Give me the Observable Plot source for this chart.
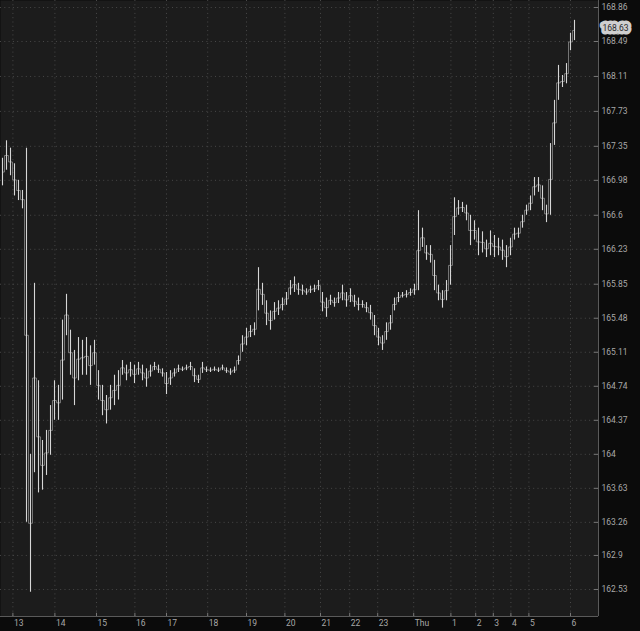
<!DOCTYPE html>
<html><head><meta charset="utf-8">
<script src="https://cdn.jsdelivr.net/npm/d3@7"></script>
<script src="https://cdn.jsdelivr.net/npm/@observablehq/plot@0.6"></script>
<style>html,body{margin:0;padding:0;background:#0b0b0b;overflow:hidden}</style>
</head><body><div id="chart"></div>
<script>
const lows = [
166.92, 167.09, 167.03, 166.81, 166.76, 166.67, 163.26, 162.50, 163.80, 163.58,
163.61, 163.77, 163.99, 164.37, 164.37, 164.59, 165.29, 164.86, 164.53, 164.80,
164.86, 164.86, 164.75, 164.97, 164.59, 164.42, 164.33, 164.48, 164.53, 164.59,
164.86, 164.80, 164.84, 164.77, 164.86, 164.80, 164.73, 164.84, 164.91, 164.88,
164.84, 164.65, 164.75, 164.84, 164.89, 164.90, 164.91, 164.91, 164.78, 164.77,
164.88, 164.89, 164.89, 164.90, 164.89, 164.91, 164.88, 164.86, 164.88, 164.97,
165.11, 165.18, 165.27, 165.29, 165.56, 165.62, 165.40, 165.35, 165.46, 165.51,
165.56, 165.62, 165.73, 165.76, 165.73, 165.73, 165.73, 165.75, 165.76, 165.78,
165.55, 165.49, 165.62, 165.60, 165.64, 165.67, 165.60, 165.65, 165.60, 165.56,
165.59, 165.54, 165.46, 165.29, 165.18, 165.13, 165.24, 165.35, 165.56, 165.65,
165.70, 165.70, 165.72, 165.73, 165.78, 166.25, 166.11, 166.08, 165.78, 165.67,
165.59, 165.67, 165.84, 166.38, 166.60, 166.63, 166.54, 166.27, 166.33, 166.16,
166.19, 166.14, 166.16, 166.14, 166.16, 166.11, 166.03, 166.16, 166.33, 166.35,
166.46, 166.60, 166.65, 166.81, 166.85, 166.65, 166.52, 166.60, 167.36, 167.85,
167.99, 168.03, 168.39, 168.50];
const highs = [
167.22, 167.41, 167.33, 167.16, 166.98, 166.87, 167.33, 164.00, 165.86, 164.80,
164.15, 164.26, 164.53, 164.80, 164.75, 165.46, 165.74, 165.35, 165.13, 165.27,
165.24, 165.27, 165.18, 165.24, 164.91, 164.75, 164.64, 164.75, 164.86, 164.91,
165.02, 164.97, 165.00, 164.97, 165.00, 164.97, 164.93, 164.97, 165.00, 164.97,
164.93, 164.89, 164.91, 164.93, 164.97, 164.95, 164.97, 165.00, 164.93, 164.86,
165.00, 164.95, 164.94, 164.95, 164.94, 164.97, 164.94, 164.93, 164.95, 165.07,
165.29, 165.37, 165.40, 165.43, 166.03, 165.86, 165.67, 165.56, 165.65, 165.67,
165.70, 165.76, 165.89, 165.93, 165.86, 165.84, 165.80, 165.83, 165.84, 165.89,
165.76, 165.70, 165.73, 165.70, 165.76, 165.84, 165.76, 165.80, 165.73, 165.70,
165.67, 165.65, 165.62, 165.51, 165.37, 165.29, 165.43, 165.51, 165.70, 165.76,
165.76, 165.78, 165.80, 165.85, 166.65, 166.46, 166.27, 166.27, 166.11, 165.84,
165.78, 165.89, 166.27, 166.79, 166.76, 166.74, 166.71, 166.60, 166.54, 166.46,
166.42, 166.33, 166.43, 166.38, 166.35, 166.33, 166.27, 166.35, 166.46, 166.46,
166.60, 166.71, 166.81, 167.01, 167.01, 166.92, 166.71, 167.38, 167.85, 168.23,
168.12, 168.25, 168.58, 168.72];
const lastPrice = 168.63;
const yTickLabels = ["168.86","168.49","168.11","167.73","167.35","166.98","166.6","166.23","165.85","165.48","165.11","164.74","164.37","164","163.63","163.26","162.9","162.53"];
const xTickLabels = ["13","14","15","16","17","18","19","20","21","22","23","Thu","1","2","3","4","5","6"];
const xTickIndex = [2.6,13.1,23.5,33.1,41,51.3,61,70.6,79.5,86.8,93.8,102.8,112.1,118.3,122.7,127.1,131.6,142];

const bars = lows.map((lo, i) => ({i, lo, hi: highs[i]}));
const yTicks = yTickLabels.map(Number);
const xDomain = [-0.5, 149];
const yDomain = [162.236, 168.936];
const xt = xTickIndex.map((x, k) => ({x, label: xTickLabels[k]}));
const yt = yTickLabels.map(l => ({y: +l, label: l}));
const font = "Roboto, 'Noto Sans', sans-serif";
const gridColor = "#484848";
const labelColor = "#a8a8a8";

const chart = Plot.plot({
  width: 640, height: 631,
  marginTop: 0, marginLeft: 0, marginRight: 42, marginBottom: 15,
  x: {domain: xDomain, axis: null},
  y: {domain: yDomain, axis: null},
  style: {background: "#0b0b0b", fontFamily: font},
  marks: [
    Plot.frame({fill: "#1c1c1c", stroke: null}),
    Plot.ruleY(yTicks, {stroke: gridColor, strokeDasharray: "1,3.3"}),
    Plot.ruleX(xTickIndex, {stroke: gridColor, strokeDasharray: "1,3.3"}),
    Plot.line(bars, {x: "i", y: d => (d.lo + d.hi) / 2, curve: "step", stroke: "#8c8c8c", strokeWidth: 0.8}),
    Plot.ruleX(bars, {x: "i", y1: "lo", y2: "hi", stroke: "#d6d6d6", strokeWidth: 1.1}),
    Plot.ruleX([xDomain[1]], {stroke: "#5a5a5a"}),
    Plot.ruleY([yDomain[0]], {stroke: "#5a5a5a"}),
    Plot.ruleY(yTicks, {x1: xDomain[1] - 1, x2: xDomain[1], stroke: "#777"}),
    Plot.ruleX(xTickIndex, {y1: yDomain[0], y2: yDomain[0] + 0.035, stroke: "#777"}),
    Plot.text(yt, {x: xDomain[1], y: "y", text: "label", textAnchor: "start", dx: 3, fill: labelColor, fontSize: 8.5}),
    Plot.text(xt, {x: "x", y: yDomain[0], text: "label", textAnchor: "start", dx: 1, dy: 7, fill: labelColor, fontSize: 8.5}),
    Plot.text([lastPrice], {x: xDomain[1], y: d => d, text: d => d.toFixed(2), textAnchor: "start", dx: 4,
      fill: "#2a2a2a", stroke: "#cfcfcf", strokeWidth: 7, strokeLinejoin: "round", fontSize: 8.5})
  ]
});
document.getElementById("chart").appendChild(chart);
</script>
</body></html>
